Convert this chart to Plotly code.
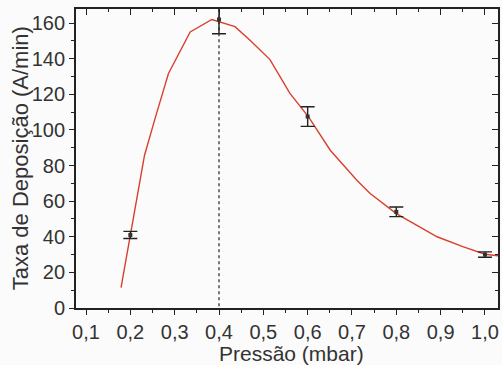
import plotly.graph_objects as go

# Measured data points with error bars
pressure = [0.2, 0.4, 0.6, 0.8, 1.0]
rate = [41, 162, 107.5, 54, 30]
rate_err = [2, 8, 5.5, 2.7, 1.5]

# Red fitted curve (polyline)
curve_x = [0.179, 0.232, 0.256, 0.286, 0.335, 0.384, 0.436, 0.47, 0.515, 0.56, 0.602,
           0.651, 0.711, 0.741, 0.8, 0.85, 0.892, 0.95, 1.0, 1.036]
curve_y = [11.5, 85.8, 106.6, 131.7, 155, 162, 158, 150.4, 139.5, 120.5, 107.3,
           88.6, 71.7, 64.3, 53, 46, 40, 34.5, 30.2, 29.1]

# Vertical dotted marker line
vline_x = [0.4, 0.4]
vline_y = [1, 170]

x_tickvals = [0.1, 0.2, 0.3, 0.4, 0.5, 0.6, 0.7, 0.8, 0.9, 1.0]
x_ticktext = ["0,1", "0,2", "0,3", "0,4", "0,5", "0,6", "0,7", "0,8", "0,9", "1,0"]
y_tickvals = [0, 20, 40, 60, 80, 100, 120, 140, 160]

x_title = "Pressão (mbar)"
y_title = "Taxa de Deposição (A/min)"

XR = [0.0774, 1.0294]
YR = [0, 167.9]

fig = go.Figure()
fig.add_trace(go.Scatter(x=vline_x, y=vline_y, mode="lines",
                         line=dict(color="#333333", width=1.3, dash="dot"),
                         showlegend=False, hoverinfo="skip"))
fig.add_trace(go.Scatter(x=curve_x, y=curve_y, mode="lines",
                         line=dict(color="#d8402e", width=1.4),
                         showlegend=False))
fig.add_trace(go.Scatter(x=pressure, y=rate, mode="markers",
                         marker=dict(symbol="square", size=4, color="#333333"),
                         error_y=dict(type="data", array=rate_err, visible=True,
                                      color="#222222", thickness=1.4, width=7),
                         showlegend=False, cliponaxis=True))
# invisible trace on a second, coincident subplot that carries the top/right inside ticks
fig.add_trace(go.Scatter(x=[0.5], y=[50], xaxis="x2", yaxis="y2", mode="markers",
                         marker=dict(opacity=0), showlegend=False, hoverinfo="skip"))

font_family = "Liberation Sans, Arial, sans-serif"
fig.update_layout(
    width=502, height=365,
    margin=dict(l=76, r=4, t=9, b=57),
    paper_bgcolor="#fbfbfb", plot_bgcolor="rgba(255,255,255,0)",
    font=dict(family=font_family, color="#222222"),
    xaxis=dict(range=XR, tickvals=x_tickvals, ticktext=x_ticktext, domain=[0, 1],
               ticks="outside", ticklen=5, tickwidth=1.4, tickcolor="#222",
               minor=dict(ticks="outside", ticklen=3, tickwidth=1.2, dtick=0.05, tick0=0.05, tickcolor="#222"),
               showline=True, mirror=True, linecolor="#222", linewidth=1.8,
               showgrid=False, zeroline=False, automargin=False,
               tickfont=dict(size=20, color="#333")),
    yaxis=dict(range=YR, tickvals=y_tickvals, domain=[0, 1],
               ticks="outside", ticklen=5, tickwidth=1.4, tickcolor="#222",
               minor=dict(ticks="outside", ticklen=3, tickwidth=1.2, dtick=10, tick0=0, tickcolor="#222"),
               showline=True, mirror=True, linecolor="#222", linewidth=1.8,
               showgrid=False, zeroline=False, automargin=False,
               tickfont=dict(size=20, color="#333")),
    xaxis2=dict(range=XR, domain=[0, 1], side="top", anchor="y2",
                tickvals=x_tickvals, showticklabels=False,
                ticks="inside", ticklen=6, tickwidth=1.4, tickcolor="#222",
                minor=dict(ticks="inside", ticklen=3, tickwidth=1.2, dtick=0.05, tick0=0.05, tickcolor="#222"),
                showline=False, showgrid=False, zeroline=False, automargin=False),
    yaxis2=dict(range=YR, domain=[0, 1], side="right", anchor="x2",
                tickvals=y_tickvals, showticklabels=False,
                ticks="inside", ticklen=6, tickwidth=1.4, tickcolor="#222",
                minor=dict(ticks="inside", ticklen=3, tickwidth=1.2, dtick=10, tick0=0, tickcolor="#222"),
                showline=False, showgrid=False, zeroline=False, automargin=False),
    annotations=[
        dict(text=x_title, xref="paper", yref="paper", x=0.51, y=-0.152,
             xanchor="center", yanchor="middle", showarrow=False,
             font=dict(size=21, color="#333")),
        dict(text=y_title, xref="paper", yref="paper", x=-0.131, y=0.5,
             xanchor="center", yanchor="middle", showarrow=False, textangle=-90,
             font=dict(size=22, color="#333")),
    ],
)

fig.write_html("out.html", config={"displayModeBar": False},
               post_script="document.body.style.margin='0px';")
